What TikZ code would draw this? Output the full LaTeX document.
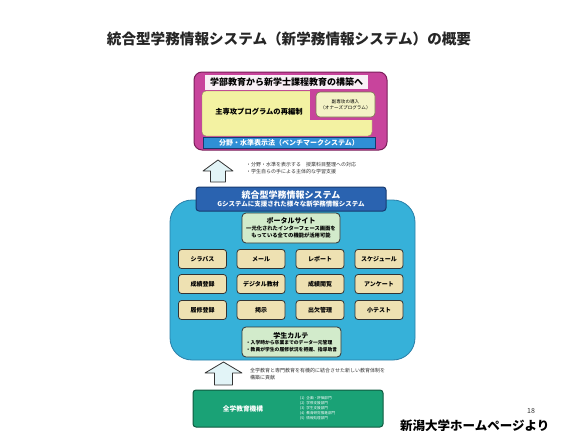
\documentclass[tikz,border=0pt]{standalone}
\usepackage{fontspec}
\setmainfont{Noto Sans CJK JP}
\usetikzlibrary{positioning}
\definecolor{magbox}{HTML}{C8449C}
\definecolor{magdark}{HTML}{7A1F5A}
\definecolor{hdrwhite}{HTML}{F8F0F6}
\definecolor{yelbox}{HTML}{F3F2A2}
\definecolor{yelsmall}{HTML}{F4F3C6}
\definecolor{stripblue}{HTML}{2F8FD6}
\definecolor{bannerblue}{HTML}{2A63B0}
\definecolor{bannerdark}{HTML}{173A70}
\definecolor{cyanbox}{HTML}{36B1D9}
\definecolor{cyandark}{HTML}{2A7FA8}
\definecolor{lightgreen}{HTML}{D2EBCB}
\definecolor{cellbeige}{HTML}{EEE1B2}
\definecolor{greenbox}{HTML}{1AA276}
\definecolor{greendark}{HTML}{0F5A40}
\definecolor{arrowfill}{HTML}{E2F4F7}
\definecolor{inkgray}{HTML}{333333}
\newcommand\myfsz[1]{\fontsize{#1pt}{\dimexpr #1pt*135/100\relax}\selectfont}
\tikzset{
  fs/.style={font=\myfsz{#1}},
  plainbox/.style={draw=inkgray, line width=0.8pt, rounded corners=3pt, inner sep=0pt},
  cellbox/.style={plainbox, fill=cellbeige, minimum width=48pt, minimum height=19pt, font=\myfsz{6}\bfseries},
  greenpanel/.style={plainbox, fill=lightgreen, rounded corners=4pt},
  blockarrow/.style={draw=inkgray, fill=arrowfill, line width=0.8pt, line join=round},
  note/.style={fs=5, align=left, inner sep=0pt, anchor=north west, text=inkgray}
}
\begin{document}
\begin{tikzpicture}[x=1pt,y=-1pt]
\useasboundingbox (0,0) rectangle (563,431);
\fill[white] (0,0) rectangle (563,431);

% title
\node[fs=14.6, text=black!85] (title) at (289,38.5) {\bfseries 統合型学務情報システム（新学務情報システム）の概要};

% top magenta box
\node[draw=magdark, fill=magbox, line width=1pt, rounded corners=8pt, minimum width=193pt, minimum height=78pt, inner sep=0pt] (topbox) at (290.5,111) {};
\node[fill=hdrwhite, minimum width=163pt, minimum height=15pt, inner sep=0pt, fs=9] (hdr) at (286.5,82.5) {\bfseries 学部教育から新学士課程教育の構築へ};
\node[draw=yelbox!60!black, fill=yelbox, line width=0.4pt, rounded corners=4pt, minimum width=170pt, minimum height=45pt, inner sep=0pt] (yel) at (287,113.5) {};
\fill[magbox] (310,89) rectangle (384,119.5);
\node[draw=yelbox!50!black, fill=yelsmall, line width=0.6pt, rounded corners=4pt, minimum width=59pt, minimum height=25pt, inner sep=0pt, fs=4.6, align=center] (minor) at (345.5,104.5) {副専攻の導入\\（オナーズプログラム）};
\node[fs=7.3] (major) at (259,112) {\bfseries 主専攻プログラムの再編制};
\node[draw=bannerdark, fill=stripblue, line width=0.5pt, minimum width=172pt, minimum height=11pt, inner sep=0pt, text=white, font=\myfsz{7}\bfseries] (bench) at (289,142.5) {分野・水準表示法（ベンチマークシステム）};

% arrow 1
\draw[blockarrow] (210.5,182) -- (210.5,171) -- (203,171) -- (218,160) -- (233,171) -- (225.5,171) -- (225.5,182) -- cycle;
\node[note] (note1) at (246,162) {・分野・水準を表示する　授業科目整理への対応\\・学生自らの手による主体的な学習支援};

% cyan main box
\node[draw=cyandark, fill=cyanbox, line width=0.8pt, rounded corners=22pt, minimum width=245pt, minimum height=160pt, inner sep=0pt] (main) at (292.5,280) {};
\node[draw=bannerdark, fill=bannerblue, line width=1pt, rounded corners=3pt, minimum width=190pt, minimum height=24pt, inner sep=0pt, text=white, align=center, font=\myfsz{6.5}\bfseries] (banner) at (291,199) {{\myfsz{9}統合型学務情報システム}\\Gシステムに支援された様々な新学務情報システム};

% portal
\node[greenpanel, minimum width=98pt, minimum height=30pt, align=center, font=\myfsz{5.3}\bfseries] (portal) at (291,228) {{\myfsz{7}ポータルサイト}\\一元化されたインターフェース画面を\\もっている全ての機能が活用可能};

% grid
\node[cellbox] (c11) at (202.5,259) {シラバス};
\node[cellbox] (c12) at (261,259) {メール};
\node[cellbox] (c13) at (320,259) {レポート};
\node[cellbox] (c14) at (379,259) {スケジュール};
\node[cellbox] (c21) at (202.5,284) {成績登録};
\node[cellbox] (c22) at (261,284) {デジタル教材};
\node[cellbox] (c23) at (320,284) {成績閲覧};
\node[cellbox] (c24) at (379,284) {アンケート};
\node[cellbox] (c31) at (202.5,310) {履修登録};
\node[cellbox] (c32) at (261,310) {掲示};
\node[cellbox] (c33) at (320,310) {出欠管理};
\node[cellbox] (c34) at (379,310) {小テスト};

% karte
\node[greenpanel, minimum width=99pt, minimum height=30pt, align=left, font=\myfsz{4.8}\bfseries] (karte) at (291.5,342) {\makebox[90pt]{\myfsz{7}学生カルテ}\\・入学時から卒業までのデータ一元管理\\・教員が学生の履修状況を把握、指導助言};

% arrow 2
\draw[blockarrow] (214.5,385) -- (214.5,373) -- (205,373) -- (223.5,362) -- (242,373) -- (232.5,373) -- (232.5,385) -- cycle;
\node[note] (note2) at (250,368) {全学教育と専門教育を有機的に結合させた新しい教育体制を\\構築に貢献};

% green bottom box
\node[draw=greendark, fill=greenbox, line width=1pt, rounded corners=3pt, minimum width=190pt, minimum height=37pt, inner sep=0pt] (org) at (288,408.5) {};
\node[text=white, font=\myfsz{6.7}\bfseries] (orgname) at (243,408.5) {全学教育機構};
\node[text=white, fs=3.6, align=left, anchor=west, inner sep=0pt] (orglist) at (300,408.5) {(1)\enspace 企画・評価部門\\(2)\enspace 学修支援部門\\(3)\enspace 学生支援部門\\(4)\enspace 教育研究推進部門\\(5)\enspace 情報処理部門};

% page footer
\node[fs=7, text=inkgray] (pageno) at (531,411) {18};
\node[fs=12.5, anchor=west, inner sep=0pt] (source) at (400,425.5) {\bfseries 新潟大学ホームページより};
\end{tikzpicture}
\end{document}
